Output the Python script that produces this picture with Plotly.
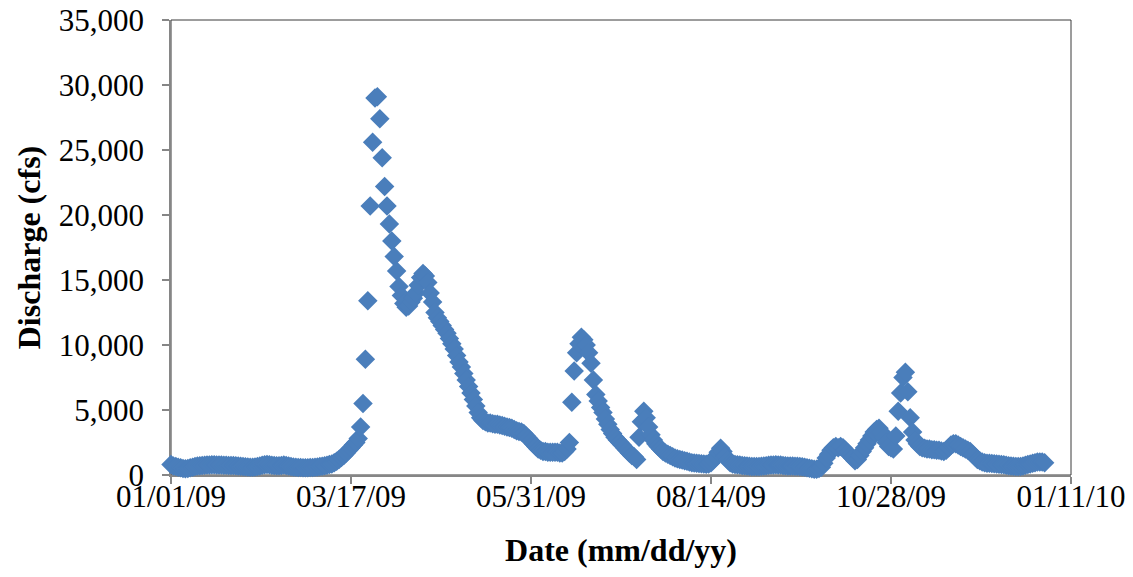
import datetime as dt
import plotly.graph_objects as go

# Daily mean discharge (cfs), calendar year 2009
jan = [800, 700, 650, 600, 550, 500, 480, 500, 550, 600, 650, 700, 720, 740, 750, 760,
       770, 780, 780, 770, 760, 760, 750, 750, 740, 740, 730, 720, 700, 680, 650]
feb = [630, 620, 600, 600, 620, 650, 700, 750, 780, 800, 780, 750, 730, 720, 720, 740,
       760, 740, 700, 660, 620, 600, 580, 570, 560, 560, 560, 570]
mar = [580, 600, 620, 650, 680, 720, 750, 800, 850, 950, 1050, 1200, 1350, 1500, 1700,
       1900, 2100, 2300, 2500, 2800, 3700, 5500, 8900, 13400, 20700, 25600, 29000, 29100,
       27400, 24400, 22200]
apr = [20700, 19300, 18000, 16800, 15700, 14500, 13800, 13200, 12900, 13000, 13300, 13600,
       14000, 14600, 15200, 15500, 15300, 14800, 14000, 13300, 12500, 12100, 11800, 11500,
       11200, 10900, 10500, 10100, 9700, 9200]
may = [8700, 8300, 7800, 7300, 6800, 6300, 5800, 5300, 4800, 4400, 4200, 4100, 4000, 4000,
       3950, 3900, 3900, 3850, 3800, 3750, 3700, 3650, 3600, 3500, 3400, 3350, 3300, 3200,
       3000, 2800, 2600]
jun = [2400, 2200, 2000, 1900, 1800, 1800, 1750, 1750, 1750, 1750, 1750, 1700, 1700, 1800,
       2000, 2500, 5600, 8000, 9400, 10100, 10600, 10400, 10000, 9400, 8600, 7300, 6200,
       5700, 5200, 4800]
jul = [4300, 3900, 3500, 3200, 2900, 2700, 2500, 2300, 2100, 1900, 1700, 1500, 1400, 1200,
       2900, 4100, 4900, 4400, 3700, 3100, 2700, 2400, 2200, 2000, 1800, 1700, 1600, 1500,
       1400, 1300, 1250]
aug = [1200, 1150, 1100, 1050, 1000, 950, 930, 900, 880, 860, 850, 820, 850, 950, 1150,
       1450, 1750, 2050, 1800, 1450, 1150, 950, 850, 800, 780, 760, 740, 720, 700, 680, 660]
sep = [650, 650, 660, 680, 700, 720, 750, 760, 770, 780, 770, 760, 740, 720, 700, 700, 690,
       680, 670, 650, 630, 600, 560, 520, 480, 450, 450, 500, 600, 900]
oct_ = [1300, 1600, 1900, 2100, 2200, 2100, 2200, 2100, 1900, 1700, 1500, 1300, 1100, 1200,
        1500, 1800, 2100, 2400, 2700, 3000, 3300, 3500, 3600, 3300, 2900, 2500, 2200, 2100,
        2000, 3000, 4900]
nov = [6300, 7500, 7900, 6400, 4400, 3300, 2700, 2400, 2200, 2100, 2050, 2000, 2000, 1950,
       1950, 1900, 1900, 1850, 1800, 1900, 2100, 2300, 2400, 2400, 2300, 2200, 2100, 2000,
       1900, 1800]
dec = [1600, 1400, 1200, 1100, 1000, 950, 900, 900, 880, 860, 850, 830, 800, 780, 750, 720,
       700, 680, 660, 650, 660, 700, 750, 800, 850, 900, 950, 1000, 1000, 1000, 950]

discharge = jan + feb + mar + apr + may + jun + jul + aug + sep + oct_ + nov + dec
start = dt.date(2009, 1, 1)
dates = [start + dt.timedelta(days=i) for i in range(len(discharge))]

x_tick_vals = ["2009-01-01", "2009-03-17", "2009-05-31", "2009-08-14", "2009-10-28", "2010-01-11"]
x_tick_text = ["01/01/09", "03/17/09", "05/31/09", "08/14/09", "10/28/09", "01/11/10"]

font_family = "Liberation Serif, Times New Roman, serif"

fig = go.Figure()
fig.add_trace(go.Scatter(
    x=dates, y=discharge, mode="markers",
    marker=dict(symbol="diamond", size=15, color="#4A7EBB", line=dict(width=0)),
    cliponaxis=False, showlegend=False,
))

fig.update_layout(
    width=1133, height=577,
    margin=dict(l=171, r=62, t=20, b=102),
    paper_bgcolor="white", plot_bgcolor="white",
    font=dict(family=font_family, color="black", size=32),
    shapes=[dict(type="rect", xref="paper", yref="paper", x0=0, y0=0, x1=1, y1=1,
                 line=dict(color="#3a3a3a", width=1), layer="below")],
)
fig.update_xaxes(
    type="date", range=["2009-01-01", "2010-01-11"],
    tickvals=x_tick_vals, ticktext=x_tick_text,
    showgrid=False, zeroline=False, automargin=False,
    showline=True, linecolor="#868686", linewidth=1.5,
    ticks="outside", ticklen=7, tickcolor="#868686", tickwidth=1.5,
    ticklabelstandoff=-14, ticklabeloverflow="allow",
    tickfont=dict(size=31, family=font_family),
    title=dict(text="<b>Date (mm/dd/yy)</b>", font=dict(size=32, family=font_family), standoff=26),
    layer="below traces",
)
fig.update_yaxes(
    range=[0, 35000], dtick=5000, tickformat=",",
    showgrid=False, zeroline=False, automargin=False,
    showline=True, linecolor="#868686", linewidth=1.5,
    ticks="outside", ticklen=7, tickcolor="#868686", tickwidth=1.5,
    ticklabelstandoff=12, ticklabeloverflow="allow",
    tickfont=dict(size=31, family=font_family),
    title=dict(text="<b>Discharge (cfs)</b>", font=dict(size=32, family=font_family), standoff=9),
    layer="below traces",
)

fig.write_html("out.html", config={"displayModeBar": False},
               post_script="document.body.style.margin='0';")
